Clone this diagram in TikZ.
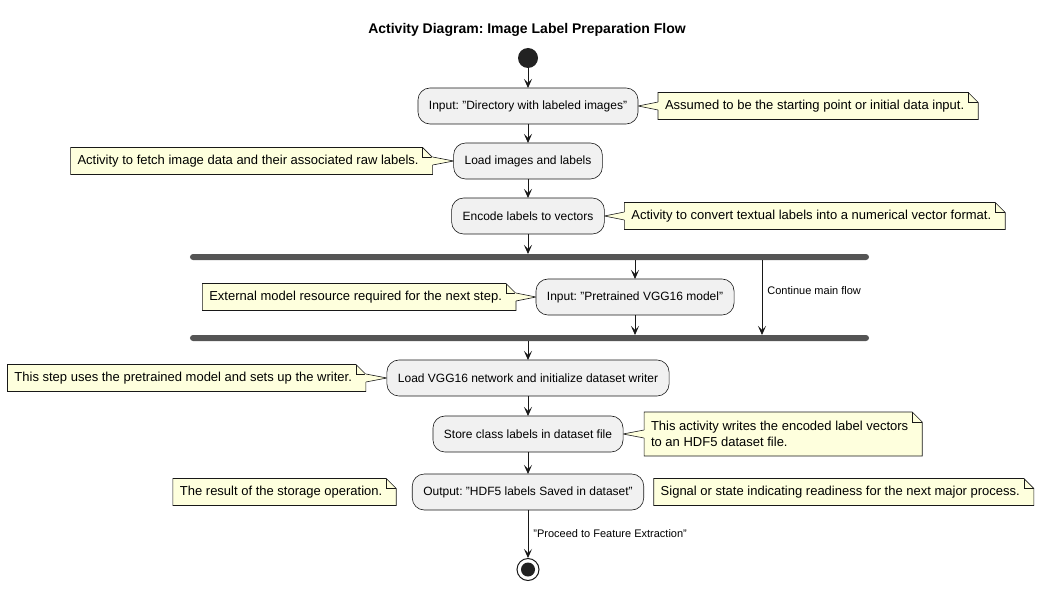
\documentclass[tikz,border=0pt]{standalone}
\usepackage{fontspec}
\setmainfont{Liberation Sans}
\usetikzlibrary{arrows.meta, positioning, backgrounds, calc}
\definecolor{actfill}{HTML}{F1F1F1}
\definecolor{linegray}{HTML}{181818}
\definecolor{notefill}{HTML}{FEFFDD}
\definecolor{bargray}{HTML}{555555}
\definecolor{dotblack}{HTML}{222222}
\frenchspacing

\begin{document}
\begin{tikzpicture}[
  x=1bp, y=-1bp,
  node distance=20bp and 20bp,
  act/.style={draw=linegray, line width=0.6bp, fill=actfill, rounded corners=12bp,
              minimum height=36bp, inner xsep=11bp, inner ysep=0pt, outer sep=0pt,
              font=\fontsize{12bp}{14bp}\selectfont},
  note/.style={inner xsep=7bp, inner ysep=0pt, outer sep=0pt, minimum height=27bp,
               align=left, font=\fontsize{13bp}{16bp}\selectfont},
  bar/.style={fill=bargray, rounded corners=3bp, minimum width=679bp,
              minimum height=6bp, inner sep=0pt, outer sep=0pt},
  arr/.style={-{Stealth[length=9bp, width=8bp, inset=4bp]}, draw=linegray, line width=0.8bp},
  lbl/.style={right, font=\fontsize{11bp}{13bp}\selectfont, inner xsep=5bp, inner ysep=0pt},
  noteline/.style={draw=linegray, line width=0.6bp}
]
  \useasboundingbox (0,0) rectangle (1055,591);

  \node[font=\bfseries\fontsize{14bp}{17bp}\selectfont] (title) at (527,30)
       {Activity Diagram: Image Label Preparation Flow};

  % main flow
  \node[circle, fill=dotblack, minimum size=20bp, inner sep=0pt, outer sep=0pt] (start) at (528,58) {};
  \node[act, below=of start] (a1) {Input: "Directory with labeled images"};
  \node[act, below=19bp of a1] (a2) {Load images and labels};
  \node[act, below=19bp of a2] (a3) {Encode labels to vectors};
  \node[bar, below=of a3, xshift=1.5bp] (fork) {};
  \node[act, below=19bp of fork, xshift=105.5bp] (a4) {Input: "Pretrained VGG16 model"};
  \coordinate (jn) at (fork |- a4.south);
  \node[bar, below=of jn] (join) {};
  \node[act, below=19bp of join, xshift=-1.5bp] (a5) {Load VGG16 network and initialize dataset writer};
  \node[act, below=of a5] (a6) {Store class labels in dataset file};
  \node[act, below=22bp of a6] (a7) {Output: "HDF5 labels Saved in dataset"};
  \node[circle, draw=linegray, line width=1bp, minimum size=22bp, inner sep=0pt,
        below=48bp of a7] (stop) {};
  \node[circle, fill=dotblack, minimum size=14bp, inner sep=0pt] (stopdot) at (stop) {};

  % notes
  \node[note, right=of a1] (n1) {Assumed to be the starting point or initial data input.};
  \node[note, left=28bp of a2] (n2) {Activity to fetch image data and their associated raw labels.};
  \node[note, right=of a3] (n3) {Activity to convert textual labels into a numerical vector format.};
  \node[note, left=27bp of a4] (n4) {External model resource required for the next step.};
  \node[note, left=28bp of a5] (n5) {This step uses the pretrained model and sets up the writer.};
  \node[note, right=21bp of a6, minimum height=44bp] (n6)
       {This activity writes the encoded label vectors\\to an HDF5 dataset file.};
  \node[note, left=23bp of a7] (n7) {The result of the storage operation.};
  \node[note, right=10bp of a7] (n8) {Signal or state indicating readiness for the next major process.};

  % connectors
  \draw[arr] (start) -- (a1);
  \draw[arr] (a1) -- (a2);
  \draw[arr] (a2) -- (a3);
  \draw[arr] (a3) -- (a3 |- fork.north);
  \draw[arr] (a4 |- fork.south) -- (a4);
  \draw[arr] (a4) -- (a4 |- join.north);
  \coordinate (cont) at ($(fork.south)+(232.5,0)$);
  \draw[arr] (cont) -- (cont |- join.north) node[lbl, pos=0.41] {Continue main flow};
  \draw[arr] (join.south -| a5) -- (a5);
  \draw[arr] (a5) -- (a6);
  \draw[arr] (a6) -- (a7);
  \draw[arr] (a7) -- (stop) node[lbl, midway] {"Proceed to Feature Extraction"};

  \begin{scope}[on background layer]
    % note outlines with folded corner
    \foreach \i in {1,...,8} {
      \filldraw[noteline, fill=notefill] (n\i.north west) -- ($(n\i.north east)+(-3,0)$)
        -- ($(n\i.north east)+(7,10)$) -- ($(n\i.south east)+(7,0)$) -- (n\i.south west) -- cycle;
      \draw[noteline] ($(n\i.north east)+(-3,0)$) -- ($(n\i.north east)+(-3,10)$)
        -- ($(n\i.north east)+(7,10)$);
    }
    % tails of notes on the right
    \foreach \i in {1,3,6} {
      \fill[notefill] ($(n\i.west)+(1,-4)$) -- (a\i.east) -- ($(n\i.west)+(1,4)$) -- cycle;
      \draw[noteline] ($(n\i.west)+(0,-4)$) -- (a\i.east) -- ($(n\i.west)+(0,4)$);
    }
    % tails of notes on the left
    \foreach \i in {2,4,5} {
      \fill[notefill] ($(n\i.east)+(6,-4)$) -- (a\i.west) -- ($(n\i.east)+(6,4)$) -- cycle;
      \draw[noteline] ($(n\i.east)+(7,-4)$) -- (a\i.west) -- ($(n\i.east)+(7,4)$);
    }
  \end{scope}
\end{tikzpicture}
\end{document}
